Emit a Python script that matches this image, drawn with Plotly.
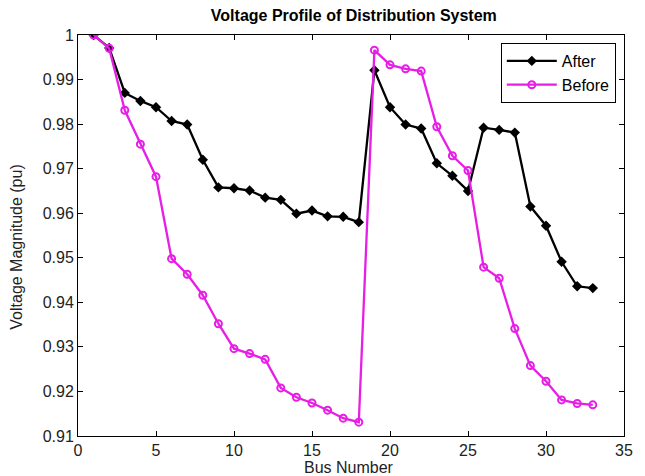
import plotly.graph_objects as go

bus = list(range(1, 34))
after = [1.0, 0.9971, 0.9870, 0.9852, 0.9838, 0.9807, 0.9799, 0.9720, 0.9658, 0.9656,
         0.9651, 0.9635, 0.9630, 0.9599, 0.9606, 0.9593, 0.9592, 0.9580, 0.9921, 0.9838,
         0.9799, 0.9790, 0.9712, 0.9684, 0.9650, 0.9792, 0.9787, 0.9781, 0.9615, 0.9572,
         0.9491, 0.9436, 0.9432]
before = [1.0, 0.9970, 0.9831, 0.9755, 0.9682, 0.9498, 0.9463, 0.9416, 0.9352, 0.9296,
          0.9285, 0.9272, 0.9208, 0.9187, 0.9174, 0.9158, 0.9140, 0.9131, 0.9966, 0.9933,
          0.9924, 0.9919, 0.9794, 0.9729, 0.9696, 0.9479, 0.9454, 0.9341, 0.9258, 0.9223,
          0.9181, 0.9173, 0.9170]
ytick_vals = [0.91, 0.92, 0.93, 0.94, 0.95, 0.96, 0.97, 0.98, 0.99, 1.0]
ytick_text = ["0.91", "0.92", "0.93", "0.94", "0.95", "0.96", "0.97", "0.98", "0.99", "1"]
xtick_vals = [0, 5, 10, 15, 20, 25, 30, 35]

font_family = "Liberation Sans, Arial, sans-serif"

fig = go.Figure()
fig.add_trace(go.Scatter(
    x=bus, y=after, name="After", mode="lines+markers",
    line=dict(color="black", width=2.3),
    marker=dict(symbol="diamond", size=8, color="black"),
))
fig.add_trace(go.Scatter(
    x=bus, y=before, name="Before", mode="lines+markers",
    line=dict(color="#e61ee6", width=2.3),
    marker=dict(symbol="circle-open", size=7, color="#e61ee6", line=dict(width=2)),
))

axis_common = dict(
    showline=True, linecolor="black", linewidth=1, mirror="ticks",
    ticks="inside", ticklen=5, tickcolor="black", showgrid=False, zeroline=False,
    tickfont=dict(family=font_family, size=16, color="#222"),
)

fig.update_layout(
    width=645, height=476,
    margin=dict(l=77.5, r=14.5, t=34.5, b=39.5),
    paper_bgcolor="white", plot_bgcolor="white",
    title=dict(text="<b>Voltage Profile of Distribution System</b>",
               x=0.5486, xanchor="center", y=0.9685, yanchor="middle",
               font=dict(family=font_family, size=16, color="black")),
    xaxis=dict(range=[0, 35], tickvals=xtick_vals, **axis_common),
    yaxis=dict(range=[0.91, 1.0], tickvals=ytick_vals, ticktext=ytick_text,
               **axis_common),
    legend=dict(x=0.985, xanchor="right", y=0.98, yanchor="top",
                bordercolor="black", borderwidth=1, bgcolor="white",
                font=dict(family=font_family, size=16, color="black"),
                itemwidth=50, tracegroupgap=0),
    showlegend=True,
    annotations=[
        dict(text="Voltage Magnitude (pu)", textangle=-90, showarrow=False,
             xref="paper", yref="paper", x=-0.1125, y=0.471,
             xanchor="center", yanchor="middle",
             font=dict(family=font_family, size=16, color="#222")),
        dict(text="Bus Number", showarrow=False,
             xref="paper", yref="paper", x=0.496, y=-0.0784,
             xanchor="center", yanchor="middle",
             font=dict(family=font_family, size=16, color="#222")),
    ],
)

fig.write_html("out.html")
